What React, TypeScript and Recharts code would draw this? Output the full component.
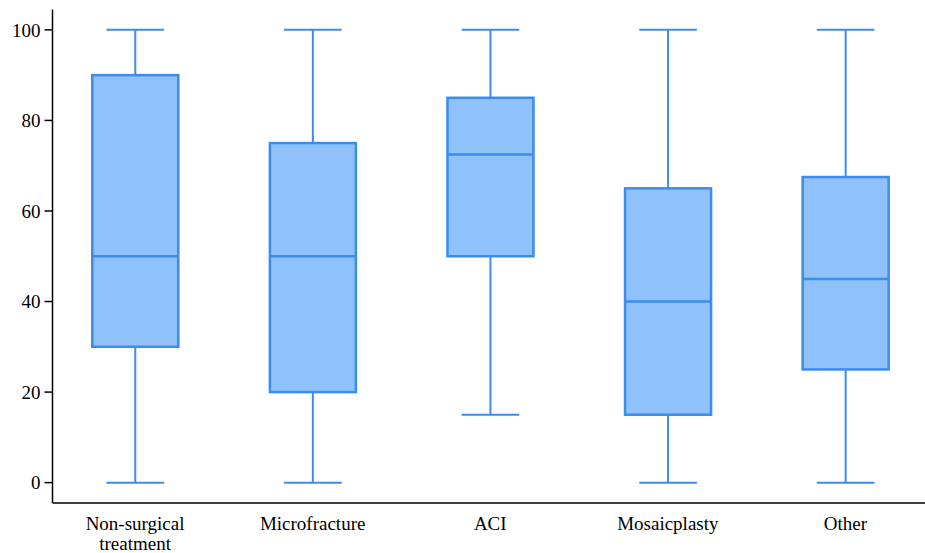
import { ComposedChart, Bar, XAxis, YAxis } from "recharts";

const categories = ["Non-surgical treatment", "Microfracture", "ACI", "Mosaicplasty", "Other"];
const mins = [0, 0, 15, 0, 0];
const q1s = [30, 20, 50, 15, 25];
const medians = [50, 50, 72.5, 40, 45];
const q3s = [90, 75, 85, 65, 67.5];
const maxs = [100, 100, 100, 100, 100];
const yTicks = [0, 20, 40, 60, 80, 100];

const FILL = "#8fc1fb";
const STROKE = "#3a8cee";
const FONT = '"Times New Roman", Times, "Liberation Serif", Tinos, "DejaVu Serif", serif';

const data = categories.map((name, i) => ({
  pos: i,
  name,
  range: [mins[i], maxs[i]],
  min: mins[i],
  q1: q1s[i],
  median: medians[i],
  q3: q3s[i],
  max: maxs[i],
}));

// greedy word wrap for the category labels
const wrap = (label: string, maxChars = 13) => {
  const lines: string[] = [];
  let cur = "";
  label.split(" ").forEach((w) => {
    if (cur && (cur + " " + w).length > maxChars) {
      lines.push(cur);
      cur = w;
    } else {
      cur = cur ? cur + " " + w : w;
    }
  });
  if (cur) lines.push(cur);
  return lines;
};

const CategoryTick = (props: any) => {
  const { x, y, payload } = props;
  const label = categories[payload.value] ?? "";
  return (
    <text x={x} y={y} textAnchor="middle" fill="#000" style={{ fontSize: 19, fontFamily: FONT }}>
      {wrap(label).map((line, i) => (
        <tspan key={i} x={x} dy={i === 0 ? 19 : 20}>
          {line}
        </tspan>
      ))}
    </text>
  );
};

// draws the box and whiskers from the range bar's geometry
const BoxShape = (props: any) => {
  const { x, y, width, height, payload } = props;
  if (!payload) return null;
  const { min, q1, median, q3, max } = payload;
  const k = height / (max - min);
  const py = (v: number) => y + (max - v) * k;
  const cx = x + width / 2;
  const cap = width * 0.67;
  return (
    <g>
      <line x1={cx} x2={cx} y1={py(max)} y2={py(q3)} stroke={STROKE} strokeWidth={2} />
      <line x1={cx} x2={cx} y1={py(q1)} y2={py(min)} stroke={STROKE} strokeWidth={2} />
      <line x1={cx - cap / 2} x2={cx + cap / 2} y1={py(max)} y2={py(max)} stroke={STROKE} strokeWidth={2} />
      <line x1={cx - cap / 2} x2={cx + cap / 2} y1={py(min)} y2={py(min)} stroke={STROKE} strokeWidth={2} />
      <rect
        x={x}
        y={py(q3)}
        width={width}
        height={py(q1) - py(q3)}
        fill={FILL}
        stroke={STROKE}
        strokeWidth={2.5}
      />
      <line x1={x} x2={x + width} y1={py(median)} y2={py(median)} stroke={STROKE} strokeWidth={2.5} />
    </g>
  );
};

export default function App() {
  return (
    <div style={{ position: "absolute", left: 0, top: 0, background: "#fff", fontFamily: FONT }}>
      <ComposedChart
        width={925}
        height={553}
        data={data}
        margin={{ top: 9.5, right: 0, bottom: 0, left: 0 }}
        style={{ fontFamily: FONT }}
      >
        <XAxis
          dataKey="pos"
          type="number"
          domain={[-0.465, 4.448]}
          ticks={[0, 1, 2, 3, 4]}
          tick={<CategoryTick />}
          tickLine={false}
          axisLine={{ stroke: "#000", strokeWidth: 1.5 }}
          height={50}
          interval={0}
          allowDataOverflow
        />
        <YAxis
          type="number"
          domain={[-4.5, 104.5]}
          ticks={yTicks}
          width={52.5}
          tickSize={8}
          tickMargin={4}
          tick={{ fill: "#000", fontSize: 19, style: { fontFamily: FONT } }}
          tickLine={{ stroke: "#000", strokeWidth: 1.5 }}
          axisLine={{ stroke: "#000", strokeWidth: 1.5 }}
          allowDataOverflow
        />
        <Bar dataKey="range" barSize={86} shape={<BoxShape />} isAnimationActive={false} />
      </ComposedChart>
    </div>
  );
}
